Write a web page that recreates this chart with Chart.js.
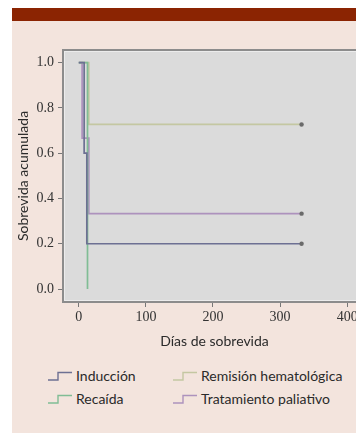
<!DOCTYPE html>
<html>
<head>
<meta charset="utf-8">
<script src="https://cdn.jsdelivr.net/npm/chart.js@4"></script>
<style>
  body { margin: 0; width: 356px; height: 436px; overflow: hidden; background: #fff; position: relative; }
  .panel { position: absolute; left: 12px; top: 8px; right: 0; height: 425px; background: #f3e4dd; }
  .band { position: absolute; left: 12px; top: 8px; right: 0; height: 13px; background: #8b2402; }
  .plot { position: absolute; left: 0; top: 0; }
  .legend { position: absolute; left: 0; top: 0; font-family: Lato, "Open Sans", sans-serif; font-size: 14px; color: #2a2a2a; }
  .legend .item { position: absolute; white-space: nowrap; line-height: 16px; }
  .legend svg { position: absolute; left: 0; top: 3px; }
  .legend span { position: absolute; left: 28px; top: 0; }
</style>
</head>
<body>
<div class="panel"></div>
<div class="band"></div>
<canvas id="graph" class="plot" width="370" height="360"></canvas>
<div class="legend" id="legend"></div>
<script>
//series names and colours
const seriesNames = ["Inducción", "Recaída", "Remisión hematológica", "Tratamiento paliativo"];
const seriesColors = ["#6d7093", "#80bd95", "#c4c7a2", "#ad92bd"];

//survival steps (days, cumulative survival)
const induccionDays = [0, 8, 12, 332];
const induccionSurv = [1, 0.6, 0.2, 0.2];
const recaidaDays = [0, 13];
const recaidaSurv = [1, 0];
const remisionDays = [0, 15, 332];
const remisionSurv = [1, 0.727, 0.727];
const paliativoDays = [0, 5, 15, 332];
const paliativoSurv = [1, 0.667, 0.333, 0.333];

//censored at the last point?
const censored = [true, false, true, true];

//tick labels
const xTicks = [0, 100, 200, 300, 400];
const yTicks = [0.0, 0.2, 0.4, 0.6, 0.8, 1.0];

const allDays = [induccionDays, recaidaDays, remisionDays, paliativoDays];
const allSurv = [induccionSurv, recaidaSurv, remisionSurv, paliativoSurv];

//build datasets
const datasets = seriesNames.map((name, i) => {
    const days = allDays[i];
    const surv = allSurv[i];
    const points = days.map((d, k) => ({ x: d, y: surv[k] }));
    const radii = days.map((d, k) => (censored[i] && k === days.length - 1) ? 2.2 : 0);
    return {
        label: name,
        data: points,
        stepped: 'before',
        borderColor: seriesColors[i],
        borderWidth: 1.7,
        pointRadius: radii,
        pointBorderWidth: 0,
        pointBackgroundColor: "#6a6a6a",
        fill: false
    };
});

//plot background and frame
const framePlugin = {
    id: 'frame',
    beforeDatasetsDraw(chart) {
        const { ctx, chartArea: a } = chart;
        ctx.save();
        ctx.fillStyle = "#dbdbdb";
        ctx.fillRect(a.left, a.top, a.right - a.left, a.bottom - a.top);
        ctx.restore();
    },
    afterDatasetsDraw(chart) {
        const { ctx, chartArea: a } = chart;
        ctx.save();
        ctx.strokeStyle = "#8c8c8c";
        ctx.lineWidth = 2;
        ctx.strokeRect(a.left, a.top, a.right - a.left, a.bottom - a.top);
        ctx.strokeStyle = "#ececec";
        ctx.lineWidth = 1;
        ctx.strokeRect(a.left + 1.5, a.top + 1.5, a.right - a.left - 3, a.bottom - a.top - 3);
        ctx.restore();
    }
};

const tickFont = { family: "'Liberation Serif', serif", size: 14 };
const titleFont = { family: "Lato, 'Open Sans', sans-serif", size: 14 };

new Chart(document.getElementById("graph"), {
    type: 'line',
    data: { datasets: datasets },
    options: {
        responsive: false,
        animation: false,
        events: [],
        layout: { padding: { top: 50, left: 0, right: 0, bottom: 0 } },
        plugins: { legend: { display: false }, tooltip: { enabled: false } },
        scales: {
            x: {
                type: 'linear',
                min: -23.5,
                max: 428,
                afterFit: s => { s.height = 58; },
                afterBuildTicks: s => { s.ticks = xTicks.map(v => ({ value: v })); },
                border: { display: false },
                grid: { drawOnChartArea: false, drawTicks: true, tickLength: 5, color: "#777" },
                ticks: { font: tickFont, color: "#333", padding: 2, maxRotation: 0, autoSkip: false },
                title: { display: true, text: "Días de sobrevida", font: titleFont, color: "#2a2a2a", padding: { top: 0, bottom: 10 } }
            },
            y: {
                min: -0.0574,
                max: 1.056,
                afterFit: s => { s.width = 63; },
                afterBuildTicks: s => { s.ticks = yTicks.map(v => ({ value: v })); },
                border: { display: false },
                grid: { drawOnChartArea: false, drawTicks: true, tickLength: 5, color: "#777" },
                ticks: { font: tickFont, color: "#333", padding: 4, callback: v => v.toFixed(1) },
                title: { display: true, text: "Sobrevida acumulada", font: titleFont, color: "#2a2a2a", padding: { top: 14.6, bottom: 0 } }
            }
        }
    },
    plugins: [framePlugin]
});

//legend with little step icons, two columns
const legend = document.getElementById("legend");
const legendPos = [[48, 368], [48, 391], [173, 368], [173, 391]];
seriesNames.forEach((name, i) => {
    const item = document.createElement("div");
    item.className = "item";
    item.style.left = legendPos[i][0] + "px";
    item.style.top = legendPos[i][1] + "px";
    item.innerHTML = '<svg width="24" height="10"><polyline points="0,9 10,9 10,1.5 24,1.5" fill="none" stroke="' +
        seriesColors[i] + '" stroke-width="1.4"/></svg><span>' + name + '</span>';
    legend.appendChild(item);
});
</script>
</body>
</html>
